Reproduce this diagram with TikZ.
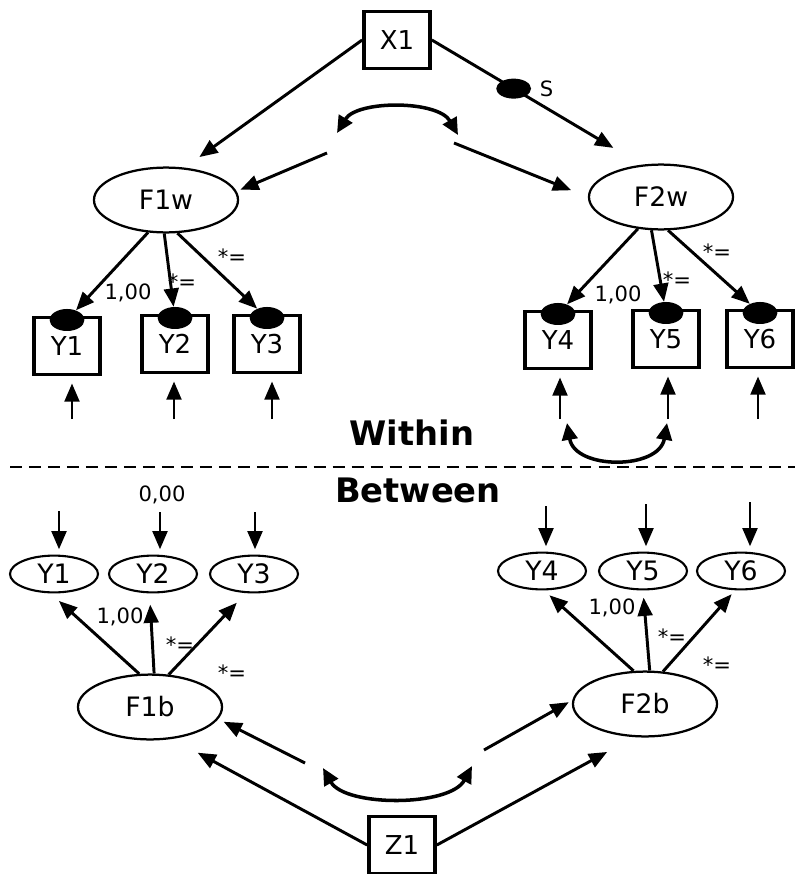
\documentclass[tikz,border=0pt]{standalone}
\usepackage{fontspec}
\setmainfont{DejaVu Sans}
\usetikzlibrary{%
  arrows.meta,%
  shapes.geometric,%
  positioning
}

\begin{document}
\begin{tikzpicture}[x=0.025cm,y=-0.025cm,
    obs/.style={draw,line width=2.6pt,minimum width=1.65cm,minimum height=1.42cm,
      inner sep=0pt,font=\fontsize{18.5}{20}\selectfont},
    lat/.style={draw,ellipse,line width=1.6pt,minimum width=3.6cm,minimum height=1.62cm,
      inner sep=0pt,font=\fontsize{19}{22}\selectfont},
    ind/.style={draw,ellipse,line width=1.5pt,minimum width=2.2cm,minimum height=0.92cm,
      inner sep=0pt,font=\fontsize{19}{22}\selectfont},
    mdot/.style={fill,ellipse,minimum width=0.87cm,minimum height=0.55cm,inner sep=0pt},
    arr/.style={line width=2.1pt,-{Triangle[length=13pt,width=10.5pt]}},
    cov/.style={line width=2.5pt,{Triangle[length=12pt,width=11pt]}-{Triangle[length=12pt,width=11pt]}},
    lbl/.style={font=\fontsize{15}{17}\selectfont,inner sep=0pt},
    level/.style={font=\bfseries\fontsize{24}{26}\selectfont,inner sep=0pt}
  ]
  \useasboundingbox (0,0) rectangle (795,874);

  % within part
  \node[obs] (X1) at (397,40) {X1};
  \node[lat] (F1w) at (166,200) {F1w};
  \node[lat] (F2w) at (661,197) {F2w};
  \foreach \n/\x/\y in {1/67/346, 2/175/344, 3/267/344, 4/558/340, 5/666/339, 6/760/339}
    \node[obs] (Yw\n) at (\x,\y) {Y\n};
  \foreach \n in {1,...,6}
    \node[mdot] (m\n) at ([yshift=-3pt]Yw\n.north) {};

  \draw[arr,shorten >=0.45cm] (X1.west) -- (F1w.60);
  \draw[arr,shorten >=0.82cm] (X1.east) -- node[mdot,minimum height=0.5cm,pos=0.39] (sdot) {} (F2w.121);
  \node[lbl,right=5pt of sdot] (slbl) {S};

  \coordinate (sl) at (327,153);
  \coordinate (sr) at (454,143);
  \draw[arr,shorten >=0.1cm] (sl) -- (F1w.7);
  \draw[arr,shorten >=0.45cm] (sr) -- (F2w.west);
  \coordinate (tl) at (337,133);
  \coordinate (tr) at (458,135);
  \draw[cov] (tl) .. controls (357,100) and (438,100) .. (tr);

  \draw[arr] (F1w.-119) -- (m1);
  \draw[arr] (F1w.-93) -- (m2);
  \draw[arr] (F1w.-71) -- (m3);
  \draw[arr] (F2w.-126) -- (m4);
  \draw[arr] (F2w.-106) -- (m5);
  \draw[arr] (F2w.-78) -- (m6);
  \node[lbl] (l1) at (128,293) {1,00};
  \node[lbl] (l2) at (182,282) {*=};
  \node[lbl] (l3) at (232,257) {*=};
  \node[lbl] (l4) at (618,295) {1,00};
  \node[lbl] (l5) at (677,280) {*=};
  \node[lbl] (l6) at (717,252) {*=};

  % residuals
  \foreach \n/\x in {1/72, 2/174, 3/272, 4/560, 5/668, 6/758} {
    \coordinate (ew\n) at (\x,419);
    \draw[arr,shorten >=0.18cm] (ew\n) -- (ew\n |- Yw\n.south);
  }
  \coordinate (c4) at (567,423);
  \coordinate (c5) at (667,423);
  \draw[cov] (c4) .. controls (575,470) and (659,470) .. (c5);

  \node[level] (within) at (412,433) {Within};
  \draw[line width=1.4pt,dash pattern=on 8.5pt off 5pt] (10,467) -- (795,467);
  \node[level] (between) at (418,490) {Between};

  % between part
  \node[lat] (F1b) at (150,707) {F1b};
  \node[lat] (F2b) at (645,704) {F2b};
  \foreach \n/\x/\y in {1/54/574, 2/153/574, 3/254/574, 4/542/571, 5/643/571, 6/741/571}
    \node[ind] (Yb\n) at (\x,\y) {Y\n};
  \node[obs] (Z1) at (402,845) {Z1};

  \foreach \n/\x/\y in {1/59/511, 2/160/512, 3/255/512, 4/546/506, 5/646/504, 6/750/502} {
    \coordinate (eb\n) at (\x,\y);
    \draw[arr,shorten >=0.13cm] (eb\n) -- (eb\n |- Yb\n.north);
  }
  \node[lbl] (l0) at (162,495) {0,00};

  \draw[arr,shorten >=0.28cm] (F1b.108) -- (Yb1.-100);
  \draw[arr,shorten >=0.28cm] (F1b.83) -- (Yb2.-100);
  \draw[arr,shorten >=0.33cm] (F1b.60) -- (Yb3.-113);
  \draw[arr,shorten >=0.18cm] (F2b.109) -- (Yb4.-84);
  \draw[arr,shorten >=0.18cm] (F2b.82) -- (Yb5.-90);
  \draw[arr,shorten >=0.13cm] (F2b.61) -- (Yb6.-107);
  \node[lbl] (k1) at (120,617) {1,00};
  \node[lbl] (k2) at (180,645) {*=};
  \node[lbl] (k3) at (232,673) {*=};
  \node[lbl] (k4) at (612,608) {1,00};
  \node[lbl] (k5) at (672,637) {*=};
  \node[lbl] (k6) at (717,665) {*=};

  \draw[arr,shorten >=0.72cm] (Z1.west) -- (F1b.-55);
  \draw[arr,shorten >=0.77cm] (Z1.east) -- (F2b.-108);
  \coordinate (bl) at (305,763);
  \coordinate (br) at (484,750);
  \draw[arr,shorten >=0.15cm] (bl) -- (F1b.-10);
  \draw[arr,shorten >=0.1cm] (br) -- (F2b.177);
  \coordinate (cl) at (323,768);
  \coordinate (cr) at (472,766);
  \draw[cov] (cl) .. controls (345,807) and (450,807) .. (cr);
\end{tikzpicture}
\end{document}
